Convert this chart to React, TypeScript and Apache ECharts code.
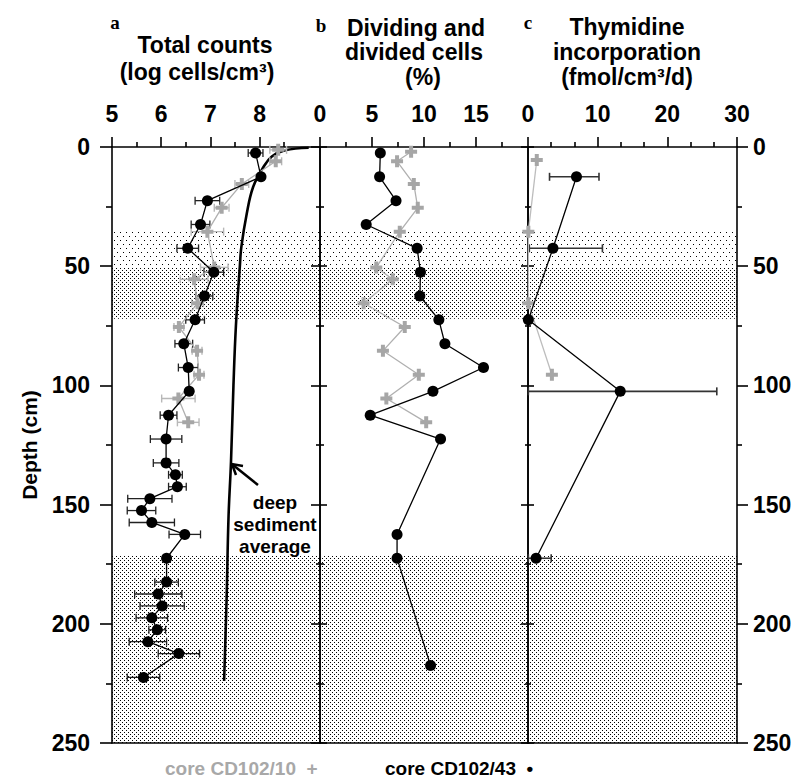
import React, { useEffect, useRef } from 'react';
import * as echarts from 'echarts';

// ---------- data ----------
// Panel a: total counts (log cells/cm3)
const depthA43 = [2.5, 12.5, 22.5, 32.5, 42.5, 52.5, 62.5, 72.5, 82.5, 92.5, 102.5, 112.5, 122.5, 132.5, 137.5, 142.5, 147.5, 152.5, 157.5, 162.5, 172.5, 182.5, 187.5, 192.5, 197.5, 202.5, 207.5, 212.5, 222.5];
const countA43 = [7.92, 8.03, 6.94, 6.80, 6.54, 7.07, 6.88, 6.69, 6.46, 6.55, 6.57, 6.15, 6.10, 6.10, 6.29, 6.33, 5.77, 5.60, 5.81, 6.48, 6.11, 6.11, 5.94, 6.02, 5.81, 5.92, 5.73, 6.36, 5.64];
const errA43 = [0.15, 0, 0.25, 0.19, 0.22, 0.2, 0.17, 0.19, 0.18, 0.2, 0, 0.17, 0.32, 0.26, 0.14, 0.18, 0.45, 0.29, 0.46, 0.32, 0, 0.24, 0.48, 0.45, 0.32, 0.17, 0.38, 0.42, 0.33];
const depthA10 = [1.2, 6, 15.5, 25.5, 35.5, 50.5, 55.5, 65.5, 75.5, 85.5, 95.5, 105.5, 115.5];
const countA10 = [8.38, 8.33, 7.64, 7.23, 6.94, 7.08, 6.67, 6.74, 6.36, 6.73, 6.77, 6.35, 6.55];
const errA10 = [0.17, 0.12, 0.14, 0.15, 0.33, 0.28, 0.28, 0.12, 0.1, 0.1, 0.1, 0.34, 0.22];
// deep sediment average curve (read points)
const avgDepth = [0.3, 1.4, 4, 8.4, 16.8, 28, 42, 50, 75, 100, 132, 155, 190, 224];
const avgCount = [9.0, 8.52, 8.25, 8.08, 7.87, 7.74, 7.63, 7.60, 7.52, 7.47, 7.42, 7.37, 7.33, 7.28];

// Panel b: dividing and divided cells (%)
const depthB43 = [2.5, 12.5, 22.5, 32.5, 42.5, 52.5, 62.5, 72.5, 82.5, 92.5, 102.5, 112.5, 122.5, 162.5, 172.5, 217.5];
const divB43 = [5.80, 5.73, 7.31, 4.44, 9.34, 9.66, 9.60, 11.43, 12.01, 15.72, 10.86, 4.83, 11.59, 7.41, 7.41, 10.63];
const depthB10 = [2, 6, 15.5, 25.5, 35.5, 50.5, 55.5, 65.5, 75.5, 85.5, 95.5, 105.5, 115.5];
const divB10 = [8.76, 7.41, 9.02, 9.40, 7.67, 5.41, 6.99, 4.19, 8.15, 6.05, 9.50, 6.38, 10.21];

// Panel c: thymidine incorporation (fmol/cm3/d)
const depthC43 = [12.5, 42.5, 72.5, 102.5, 172.5];
const thyC43 = [6.96, 3.58, 0.05, 13.24, 1.16];
const thyLoC43 = [3.09, 0.19, null, 0.05, 0.05];
const thyHiC43 = [10.19, 10.68, null, 27.1, 3.33];
const depthC10 = [5.5, 35.5, 65.5, 95.5];
const thyC10 = [1.26, 0.05, 0.05, 3.43];

// stippled depth bands
const sparseBands = [[35.5, 50.5]];
const denseBands = [[50.5, 72], [171.5, 250]];

// tick values
const ticksA = [5, 6, 7, 8];
const minorA = [5.5, 6.5, 7.5, 8.5];
const ticksB = [0, 5, 10, 15];
const minorB = [2.5, 7.5, 12.5, 17.5];
const ticksC = [0, 10, 20, 30];
const minorC = [3.333, 6.667, 13.333, 16.667, 23.333, 26.667];

// ---------- styling ----------
const FONT = '"Liberation Sans", Arial, Helvetica, sans-serif';
const SERIF = '"Liberation Serif", "Times New Roman", serif';
const GRAY = '#a6a6a6';
const GRAY_LINE = '#b0b0b0';
const PLUS = 'path://M4,0H8V4H12V8H8V12H4V8H0V4H4Z';
const AX = { color: '#000', width: 1.6 };

function makeDots(w: number, h: number, pts: number[][]) {
  const c = document.createElement('canvas');
  c.width = w;
  c.height = h;
  const ctx = c.getContext('2d')!;
  ctx.fillStyle = '#000';
  pts.forEach(([x, y]) => ctx.fillRect(x, y, 1, 1));
  return { image: c, repeat: 'repeat', imageWidth: w, imageHeight: h } as any;
}

function topAxes(gi: number, min: number, max: number, labels: number[], minors: number[]) {
  return [
    {
      type: 'value', gridIndex: gi, position: 'top', min, max,
      axisLine: { show: true, onZero: false, lineStyle: AX },
      axisTick: { show: true, customValues: labels, length: 10, lineStyle: AX },
      axisLabel: { show: true, customValues: labels, margin: 22, fontSize: 23, fontWeight: 'bold', color: '#000', fontFamily: FONT },
      splitLine: { show: false },
    },
    {
      type: 'value', gridIndex: gi, position: 'top', min, max,
      axisLine: { show: false },
      axisTick: { show: true, customValues: minors, length: 5, lineStyle: AX },
      axisLabel: { show: false },
      splitLine: { show: false },
    },
    {
      type: 'value', gridIndex: gi, position: 'bottom', min, max,
      axisLine: { show: true, onZero: false, lineStyle: AX },
      axisTick: { show: false },
      axisLabel: { show: false },
      splitLine: { show: false },
    },
  ];
}

function yAxisDef(gi: number, position: string, inside: boolean, labels: boolean, major: number, minor: number, extra: any = {}) {
  return {
    type: 'value', gridIndex: gi, position, inverse: true, min: 0, max: 250, interval: 50,
    axisLine: { show: true, onZero: false, lineStyle: AX },
    axisTick: { show: true, inside, length: major, lineStyle: AX },
    minorTick: { show: true, splitNumber: 2, length: minor, lineStyle: AX },
    axisLabel: { show: labels, fontSize: 23, fontWeight: 'bold', color: '#000', fontFamily: FONT, margin: position === 'left' ? 22 : 16 },
    splitLine: { show: false },
    ...extra,
  };
}

function errSeries(xi: number, yi: number, data: any[], color: string, width: number) {
  return {
    type: 'custom', xAxisIndex: xi, yAxisIndex: yi, z: 4, silent: true, clip: false,
    encode: { x: [0, 2, 3], y: 1 },
    data,
    renderItem: (params: any, api: any) => {
      const y = api.value(1);
      const a = api.coord([api.value(2), y]);
      const b = api.coord([api.value(3), y]);
      const h = 4;
      const st = { stroke: color, lineWidth: width };
      return {
        type: 'group',
        children: [
          { type: 'line', shape: { x1: a[0], y1: a[1], x2: b[0], y2: b[1] }, style: st },
          { type: 'line', shape: { x1: a[0], y1: a[1] - h, x2: a[0], y2: a[1] + h }, style: st },
          { type: 'line', shape: { x1: b[0], y1: b[1] - h, x2: b[0], y2: b[1] + h }, style: st },
        ],
      };
    },
  };
}

function pairs(xs: number[], ys: number[]) {
  return xs.map((x, i) => [x, ys[i]]);
}

function grayLine(xi: number, yi: number, data: any[], lineColor = GRAY_LINE) {
  return {
    type: 'line', xAxisIndex: xi, yAxisIndex: yi, z: 5, data,
    symbol: PLUS, symbolSize: 12, showSymbol: true,
    itemStyle: { color: GRAY },
    lineStyle: { color: lineColor, width: 1.3 },
    silent: true,
  };
}

function blackLine(xi: number, yi: number, data: any[]) {
  return {
    type: 'line', xAxisIndex: xi, yAxisIndex: yi, z: 6, data,
    symbol: 'circle', symbolSize: 11, showSymbol: true,
    itemStyle: { color: '#000' },
    lineStyle: { color: '#000', width: 1.3 },
    silent: true,
  };
}

export default function App() {
  const ref = useRef<HTMLDivElement>(null);

  useEffect(() => {
    if (!ref.current) return;
    const chart = echarts.init(ref.current, null, { renderer: 'svg' });

    const sparse = makeDots(6, 8, [[0, 0], [3, 4]]);
    const dense = makeDots(4, 4, [[0, 0], [2, 2]]);
    const bandData = [
      ...sparseBands.map(([a, b]) => [{ yAxis: a, itemStyle: { color: sparse } }, { yAxis: b }]),
      ...denseBands.map(([a, b]) => [{ yAxis: a, itemStyle: { color: dense } }, { yAxis: b }]),
    ];
    const bandSeries = (xi: number, yi: number) => ({
      type: 'line', xAxisIndex: xi, yAxisIndex: yi, z: 0, data: [], silent: true,
      markArea: { silent: true, data: bandData },
    });

    const errA43Data = depthA43
      .map((d, i) => (errA43[i] > 0 ? [countA43[i], d, countA43[i] - errA43[i], countA43[i] + errA43[i]] : null))
      .filter(Boolean);
    const errA10Data = depthA10
      .map((d, i) => (errA10[i] > 0 ? [countA10[i], d, countA10[i] - errA10[i], countA10[i] + errA10[i]] : null))
      .filter(Boolean);
    const errC43Data = depthC43
      .map((d, i) => (thyLoC43[i] != null ? [thyC43[i], d, thyLoC43[i], thyHiC43[i]] : null))
      .filter(Boolean);

    const title = (text: string, x: number, y: number, extra: any = {}) => ({
      type: 'text', silent: true,
      style: { text, x, y, align: 'center', verticalAlign: 'middle', font: `bold 23px ${FONT}`, fill: '#000', ...extra },
    });

    const option: any = {
      animation: false,
      backgroundColor: '#fff',
      grid: [
        { left: 112, top: 147, width: 208, height: 596 },
        { left: 320, top: 147, width: 208, height: 596 },
        { left: 528, top: 147, width: 209, height: 596 },
      ],
      xAxis: [
        ...topAxes(0, 5, 9.23, ticksA, minorA),
        ...topAxes(1, 0, 20, ticksB, minorB),
        ...topAxes(2, 0, 30, ticksC, minorC),
      ],
      yAxis: [
        yAxisDef(0, 'left', false, true, 12, 6, {
          name: 'Depth (cm)', nameLocation: 'middle', nameGap: 72,
          nameTextStyle: { fontSize: 21, fontWeight: 'bold', color: '#000', fontFamily: FONT },
        }),
        yAxisDef(0, 'right', true, false, 9, 4),
        yAxisDef(1, 'left', true, false, 7, 4),
        yAxisDef(1, 'right', true, false, 7, 3),
        yAxisDef(2, 'left', true, false, 6, 3),
        yAxisDef(2, 'right', false, true, 11, 5),
      ],
      series: [
        bandSeries(0, 0),
        bandSeries(3, 2),
        bandSeries(6, 4),
        // panel a
        {
          type: 'line', xAxisIndex: 0, yAxisIndex: 0, z: 3, data: pairs(avgCount, avgDepth),
          smooth: 0.4, showSymbol: false, symbol: 'none', silent: true,
          lineStyle: { color: '#000', width: 2.6 },
        },
        errSeries(0, 0, errA10Data, '#b8b8b8', 1.4),
        errSeries(0, 0, errA43Data, '#222', 1.3),
        grayLine(0, 0, pairs(countA10, depthA10)),
        blackLine(0, 0, pairs(countA43, depthA43)),
        // panel b
        grayLine(3, 2, pairs(divB10, depthB10)),
        blackLine(3, 2, pairs(divB43, depthB43)),
        // panel c
        errSeries(6, 4, errC43Data, '#333', 1.6),
        grayLine(6, 4, pairs(thyC10, depthC10), '#bdbdbd'),
        blackLine(6, 4, pairs(thyC43, depthC43)),
      ],
      graphic: [
        { type: 'text', silent: true, style: { text: 'a', x: 115, y: 22, align: 'center', verticalAlign: 'middle', font: `bold 19px ${SERIF}`, fill: '#000' } },
        { type: 'text', silent: true, style: { text: 'b', x: 321, y: 25, align: 'center', verticalAlign: 'middle', font: `bold 19px ${SERIF}`, fill: '#000' } },
        { type: 'text', silent: true, style: { text: 'c', x: 528, y: 22, align: 'center', verticalAlign: 'middle', font: `bold 19px ${SERIF}`, fill: '#000' } },
        title('Total counts', 205, 45),
        title('(log cells/cm³)', 197, 72),
        title('Dividing and', 416, 28),
        title('divided cells', 414, 52),
        title('(%)', 423, 77),
        title('Thymidine', 627, 27),
        title('incorporation', 627, 52),
        title('(fmol/cm³/d)', 627, 77),
        title('deep', 275, 502, { font: `bold 19px ${FONT}` }),
        title('sediment', 275, 524, { font: `bold 19px ${FONT}` }),
        title('average', 275, 546, { font: `bold 19px ${FONT}` }),
        {
          type: 'line', silent: true,
          shape: { x1: 258, y1: 485, x2: 233, y2: 465 },
          style: { stroke: '#000', lineWidth: 2.5 },
        },
        {
          type: 'polyline', silent: true,
          shape: { points: [[236, 475], [232, 464], [243, 466]] },
          style: { stroke: '#000', lineWidth: 2.5, fill: 'none' },
        },
        {
          type: 'text', silent: true,
          style: { text: 'core CD102/10  +', x: 165, y: 768, align: 'left', verticalAlign: 'middle', font: `bold 19px ${FONT}`, fill: '#a8a8a8' },
        },
        {
          type: 'text', silent: true,
          style: { text: 'core CD102/43  •', x: 385, y: 768, align: 'left', verticalAlign: 'middle', font: `bold 19px ${FONT}`, fill: '#000' },
        },
      ],
    };

    chart.setOption(option);
    return () => chart.dispose();
  }, []);

  return (
    <div
      ref={ref}
      style={{ position: 'fixed', left: 0, top: 0, width: 803, height: 778, background: '#fff' }}
    />
  );
}
